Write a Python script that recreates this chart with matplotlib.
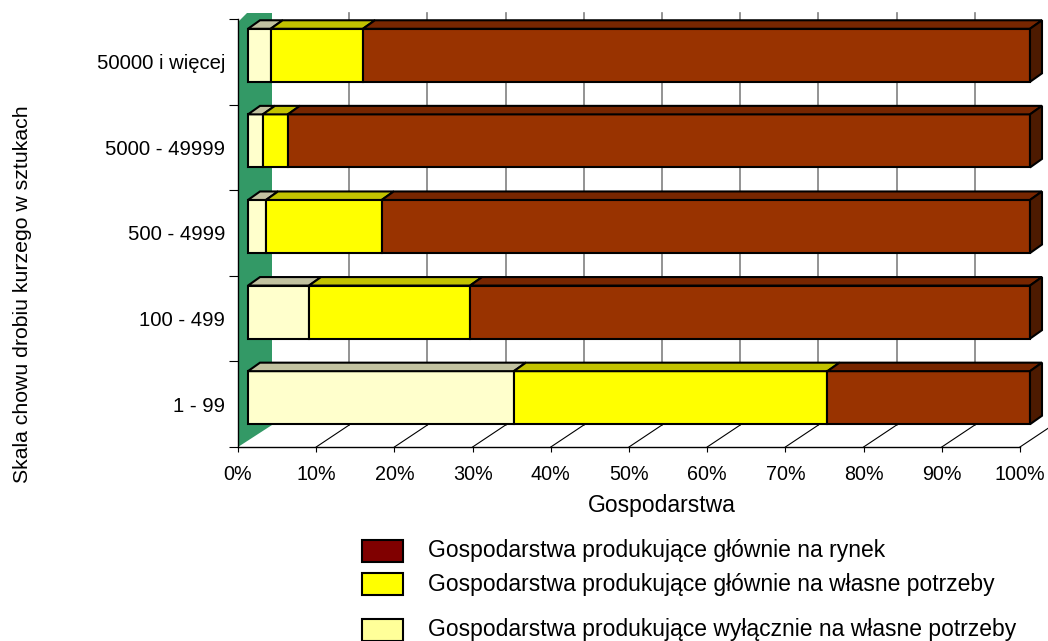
import matplotlib
matplotlib.use('Agg')
import matplotlib.pyplot as plt
from matplotlib.patches import Polygon, Rectangle

plt.rcParams['font.family'] = ['Liberation Sans', 'DejaVu Sans']

# ---------------- data ----------------
categories = ['1 - 99', '100 - 499', '500 - 4999', '5000 - 49999', '50000 i więcej']
excl_own = [34.0, 7.8, 2.3, 1.9, 2.9]      # wyłącznie na własne potrzeby
main_own = [40.1, 20.6, 14.8, 3.2, 11.8]   # głównie na własne potrzeby
market = [25.9, 71.6, 82.9, 94.9, 85.3]    # głównie na rynek
series_names = ['Gospodarstwa produkujące wyłącznie na własne potrzeby',
                'Gospodarstwa produkujące głównie na własne potrzeby',
                'Gospodarstwa produkujące głównie na rynek']
xtick_values = list(range(0, 101, 10))
xtick_labels = [f'{v}%' for v in xtick_values]
x_title = 'Gospodarstwa'
y_title = 'Skala chowu drobiu kurzego w sztukach'

# ---------------- styles ----------------
front_cols = ['#FFFFCC', '#FFFF00', '#993300']
top_cols = ['#C2C2A0', '#C2C200', '#772600']
side_col = '#4D1A00'
legend_cols = ['#FFFF99', '#FFFF00', '#800000']
wall_col = '#339966'
grid_col = '#808080'

W, H = 1048, 641
fig = plt.figure(figsize=(W / 100, H / 100), dpi=100)
ax_l, ax_r, ax_t, ax_b = 238, 1020, 19, 447
ax = fig.add_axes([ax_l / W, 1 - ax_b / H, (ax_r - ax_l) / W, (ax_b - ax_t) / H])
ax.set_xlim(0, 100)
ax.set_ylim(-0.5, len(categories) - 0.5)
ax.patch.set_visible(False)

ppx = (ax_r - ax_l) / 100.0
ppy = (ax_b - ax_t) / len(categories)


def ox(px):
    return px / ppx


def oy(px):
    return px / ppy


y0, y1 = -0.5, len(categories) - 0.5
DX, DY = 33, 22  # depth of the 3D box in px

# back wall gridlines
for v in xtick_values[1:]:
    ax.plot([v + ox(DX), v + ox(DX)], [y0 + oy(DY), y1 + oy(6)], color=grid_col,
            lw=1.2, clip_on=False, zorder=1)

# floor diagonals
for v in xtick_values[1:]:
    ax.plot([v, v + ox(DX)], [y0, y0 + oy(DY)], color='black', lw=0.8,
            clip_on=False, zorder=1)

# left wall
wall = Polygon([(0, y0), (0, y1 - oy(3)), (ox(9), y1 + oy(6)), (ox(DX + 1), y1 + oy(6)),
                (ox(DX + 1), y0 + oy(DY))], closed=True, facecolor=wall_col,
               edgecolor='none', clip_on=False, zorder=2)
ax.add_patch(wall)

# bars
fx, fy = ox(10), oy(6.5)
tx, ty = ox(12), oy(8.5)
bh = 0.62
series = [excl_own, main_own, market]
for i in range(len(categories)):
    left = 0.0
    yc = i + fy
    top = yc + bh / 2
    bot = yc - bh / 2
    for s, vals in enumerate(series):
        w = vals[i]
        ax.barh(yc, w, left=left + fx, height=bh, color=front_cols[s], edgecolor='black',
                linewidth=1.5, clip_on=False, zorder=3)
        l, r = left + fx, left + w + fx
        ax.add_patch(Polygon([(l, top), (r, top), (r + tx, top + ty), (l + tx, top + ty)],
                             closed=True, facecolor=top_cols[s], edgecolor='black',
                             linewidth=1.5, clip_on=False, zorder=3))
        left += w
    r = left + fx
    ax.add_patch(Polygon([(r, bot), (r, top), (r + tx, top + ty), (r + tx, bot + ty)],
                         closed=True, facecolor=side_col, edgecolor='black',
                         linewidth=1.5, clip_on=False, zorder=3))

# axes styling
for sp in ['top', 'right']:
    ax.spines[sp].set_visible(False)
ax.spines['left'].set_linewidth(1.0)
ax.spines['bottom'].set_linewidth(1.0)
ax.spines['left'].set_zorder(4)
ax.spines['bottom'].set_zorder(4)

ax.set_xticks(xtick_values)
ax.set_xticklabels(xtick_labels, fontsize=14.2)
ax.tick_params(axis='x', direction='out', length=5 * 0.72, width=0.8, pad=9)

ax.set_yticks([k - 0.5 for k in range(len(categories) + 1)])
ax.set_yticklabels([])
ax.tick_params(axis='y', which='major', direction='out', length=9 * 0.72, width=0.8)
ax.set_yticks(range(len(categories)), minor=True)
ax.set_yticklabels(categories, minor=True, fontsize=14.6)
ax.tick_params(axis='y', which='minor', length=0, pad=9.4)

fig.text(662 / W, 1 - 512 / H, x_title, ha='center', va='baseline', fontsize=16.5)
fig.text(23 / W, 1 - 294 / H, y_title, ha='center', va='center', rotation=90, fontsize=15.3)

# legend (manual, order: market, main_own, excl_own)
leg_sw = [550.5, 583.5, 629.5]
leg_base = [557, 591, 636]
for k, s in enumerate([2, 1, 0]):
    yc = leg_sw[k]
    fig.add_artist(Rectangle((362 / W, 1 - (yc + 11) / H), 41 / W, 22 / H,
                             transform=fig.transFigure, facecolor=legend_cols[s],
                             edgecolor='black', linewidth=1.5))
    fig.text(428 / W, 1 - leg_base[k] / H, series_names[s], ha='left', va='baseline',
             fontsize=16.5)

fig.savefig('out.png', dpi=100)
